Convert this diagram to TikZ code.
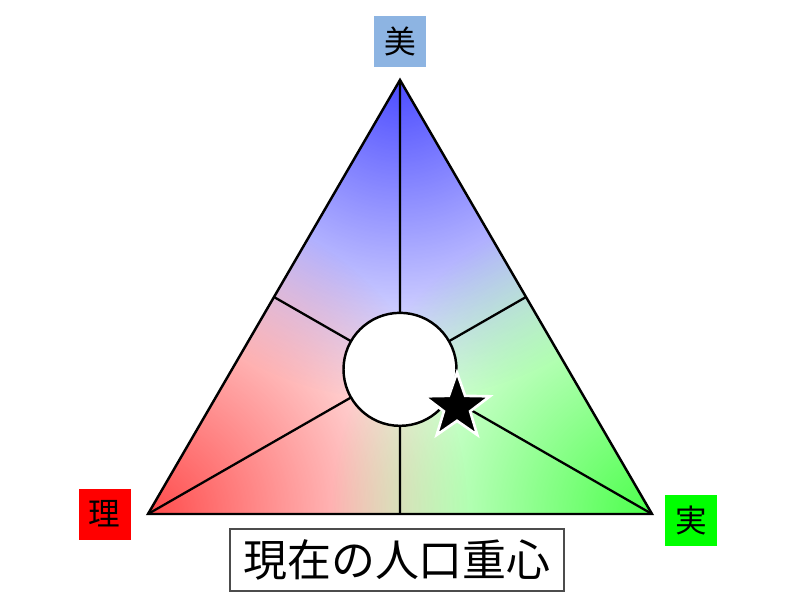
\documentclass[tikz,border=0pt]{standalone}
\usepackage{fontspec}
\newfontfamily\jpfont{Noto Sans CJK JP}
\usepackage{xcolor}
\definecolor{beauty}{HTML}{8DB4E2}
\definecolor{logic}{HTML}{FF0000}
\definecolor{practice}{HTML}{00FF00}
\usetikzlibrary{positioning, calc, shapes.geometric, fadings}
\tikzfading[name=vfade, inner color=transparent!0, outer color=transparent!100]

\begin{document}
\begin{tikzpicture}[
    edge/.style={draw=black, line width=1.4pt, line join=miter},
    spoke/.style={draw=black, line width=1.3pt},
    tag/.style={minimum width=1.04cm, minimum height=1.02cm, inner sep=0pt,
                font=\jpfont\fontsize{18}{18}\selectfont},
    glow/.style={path fading=vfade},
]
\useasboundingbox (0,0) rectangle (16,12);
\fill[white] (0,0) rectangle (16,12);

% corners of the triangle
\coordinate (apex) at (8,10.4);
\coordinate (left) at (2.96,1.72);
\coordinate (right) at (13.04,1.72);
\coordinate (ctr) at (barycentric cs:apex=1,left=1,right=1);
\coordinate (mAL) at ($(apex)!0.5!(left)$);
\coordinate (mLR) at ($(left)!0.5!(right)$);
\coordinate (mRA) at ($(right)!0.5!(apex)$);

% colour wash
\begin{scope}
\clip (apex) -- (left) -- (right) -- cycle;
\fill[blue!70, glow] (apex) circle (6.4);
\fill[red!70, glow] (left) circle (6.4);
\fill[green!70, glow] (right) circle (6.4);
\end{scope}

% spokes
\foreach \p in {apex, left, right, mAL, mLR, mRA}
    \draw[spoke] (ctr) -- (\p);
\draw[edge] (apex) -- (left) -- (right) -- cycle;

\node[circle, draw, fill=white, line width=1.4pt, minimum size=2.26cm] (hub) at (ctr) {};
\node[star, star points=5, star point ratio=2.5, fill=black, draw=white,
      line width=1.5pt, minimum size=1.38cm, inner sep=0pt] (now) at (9.14,3.86) {};

% corner labels
\node[tag, fill=beauty, above=0.26cm of apex] (bi) {美};
\node[tag, fill=logic, left=0.34cm of left] (ri) {理};
\node[tag, fill=practice] (jitsu) at (13.82,1.59) {実};

\node[draw=black!70, line width=0.6pt, minimum width=6.68cm, minimum height=1.24cm,
      font=\jpfont\fontsize{25}{25}\selectfont] (caption) at (7.94,0.8) {現在の人口重心};

\end{tikzpicture}
\end{document}
